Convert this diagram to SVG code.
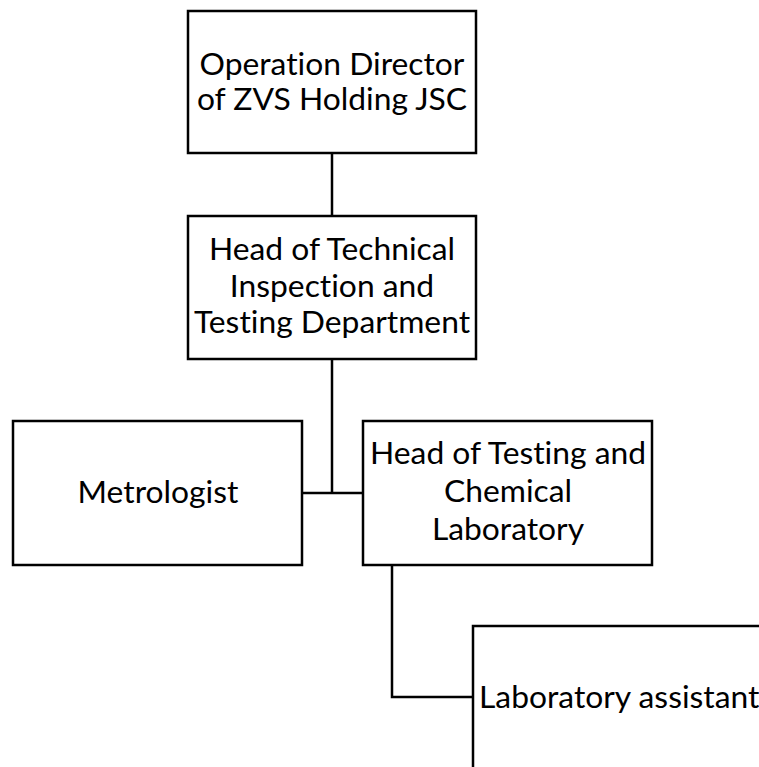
<svg xmlns="http://www.w3.org/2000/svg" width="759" height="767" viewBox="0 0 759 767">
<style>
.box{fill:#fff;stroke:#000;stroke-width:2.5}
.conn{fill:none;stroke:#000;stroke-width:2.5}
text{font-family:Lato,"Open Sans","Liberation Sans",sans-serif;font-size:31.8px;fill:#000;font-variant-ligatures:none;font-feature-settings:"liga" 0}
.c{text-anchor:middle}
</style>
<rect width="759" height="767" fill="#fff"/>
<g id="connectors">
<line class="conn" x1="332" y1="153" x2="332" y2="216"/>
<line class="conn" x1="332" y1="359" x2="332" y2="493"/>
<line class="conn" x1="302" y1="493" x2="363" y2="493"/>
<polyline class="conn" points="392,565 392,697 473,697"/>
</g>
<g id="operation-director">
<rect class="box" x="188" y="11" width="288" height="142"/>
<text class="c" x="332" y="75">Operation Director</text>
<text class="c" x="332" y="110">of ZVS Holding JSC</text>
</g>
<g id="head-technical">
<rect class="box" x="188" y="216" width="288" height="143"/>
<text class="c" x="332" y="260">Head of Technical</text>
<text class="c" x="332" y="297">Inspection and</text>
<text class="c" x="332" y="333">Testing Department</text>
</g>
<g id="metrologist">
<rect class="box" x="13" y="421" width="289" height="144"/>
<text class="c" x="158" y="503">Metrologist</text>
</g>
<g id="head-testing">
<rect class="box" x="363" y="421" width="289" height="144"/>
<text class="c" x="508" y="464">Head of Testing and</text>
<text class="c" x="508" y="502">Chemical</text>
<text class="c" x="508" y="540">Laboratory</text>
</g>
<g id="lab-assistant">
<rect class="box" x="473" y="626" width="320" height="160"/>
<text x="479" y="708">Laboratory assistant</text>
</g>
</svg>
